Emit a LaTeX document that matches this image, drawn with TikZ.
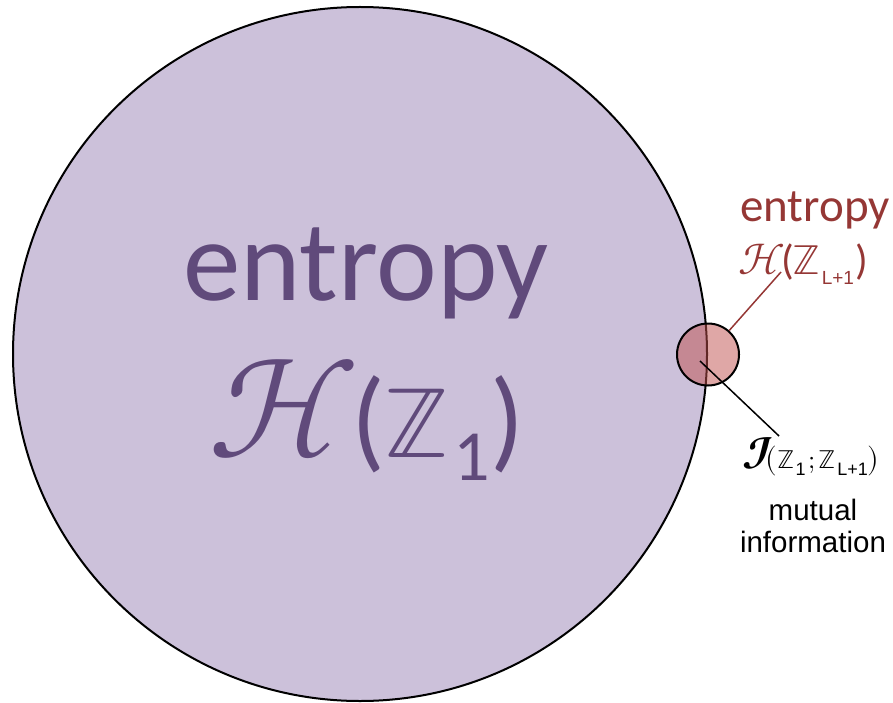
\documentclass[tikz,border=0pt]{standalone}
\usepackage{fontspec}
\usepackage{unicode-math}
\setmainfont{Carlito}
\setmathfont{latinmodern-math.otf}
\newfontfamily\arialfont{Liberation Sans}
\usetikzlibrary{positioning}
\definecolor{entLavender}{HTML}{CCC1DA}
\definecolor{entPurple}{HTML}{604A7B}
\definecolor{entRed}{HTML}{C0504D}
\definecolor{entDarkRed}{HTML}{953735}
\newcommand{\sz}[1]{\fontsize{#1}{#1}\selectfont}
\newcommand{\lowsub}[3]{\raisebox{-#1pt}{\sz{#2}#3}}
\tikzset{
  bigset/.style={circle, draw=black, line width=2pt, fill=entLavender, minimum size=694pt, inner sep=0pt},
  smallset/.style={circle, draw=black, line width=2pt, fill=entRed, fill opacity=0.5, minimum size=62pt, inner sep=0pt},
  bigtext/.style={text=entPurple, inner sep=0pt, anchor=base},
  redtext/.style={text=entDarkRed, inner sep=0pt, anchor=base},
  infotext/.style={text=black, inner sep=0pt, anchor=base},
  redlink/.style={draw=entDarkRed, line width=1.5pt},
  blacklink/.style={draw=black, line width=1.5pt}
}

\begin{document}
\begin{tikzpicture}[x=1pt, y=1pt]
\useasboundingbox (0,0) rectangle (893,-703);
\node[bigset] (H1) at (360,-354) {};
\node[smallset] (HL) at (708,-354.5) {};
\node[bigtext, font=\sz{115}] (bigword) at (366,-300) {entropy};
\node[bigtext, anchor=base west] (bigeq) at (208,-457) {{\sz{142}$\mathcal{H}$}\kern-8pt{\sz{112}(\kern-2pt{\sz{100}$\mathbb{Z}$}\kern3pt\lowsub{23}{72}{1}\kern1pt)}};
\node[redtext, font=\sz{47}] (redword) at (815,-222) {entropy};
\node[redtext] (redeq) at (803,-274) {{\sz{44}$\mathcal{H}$}\kern-4pt{\sz{42}(\kern-1pt$\mathbb{Z}$\kern1pt\lowsub{10}{19}{\arialfont L+1}\kern1pt)}};
\node[infotext, anchor=base west] (mi) at (742,-468) {{\sz{44}$\symbfscr{I}$}\kern-8pt{\sz{30}$($}{\sz{26}$\mathbb{Z}$}\kern1pt\lowsub{7}{18}{\arialfont 1}\kern3pt{\sz{26}$;$}\kern3pt{\sz{26}$\mathbb{Z}$}\kern1pt\lowsub{7}{18}{\arialfont L+1}{\sz{30}$)$}};
\node[infotext, font=\arialfont\fontsize{29.5}{32}\selectfont, align=center] (mutual) at (813,-552) {mutual\\information};
\coordinate (redtip) at (781,-272);
\coordinate (overlap) at (700,-361);
\coordinate (mitip) at (779,-436);
\draw[redlink] (HL) -- (redtip);
\draw[blacklink] (overlap) -- (mitip);
\end{tikzpicture}
\end{document}
